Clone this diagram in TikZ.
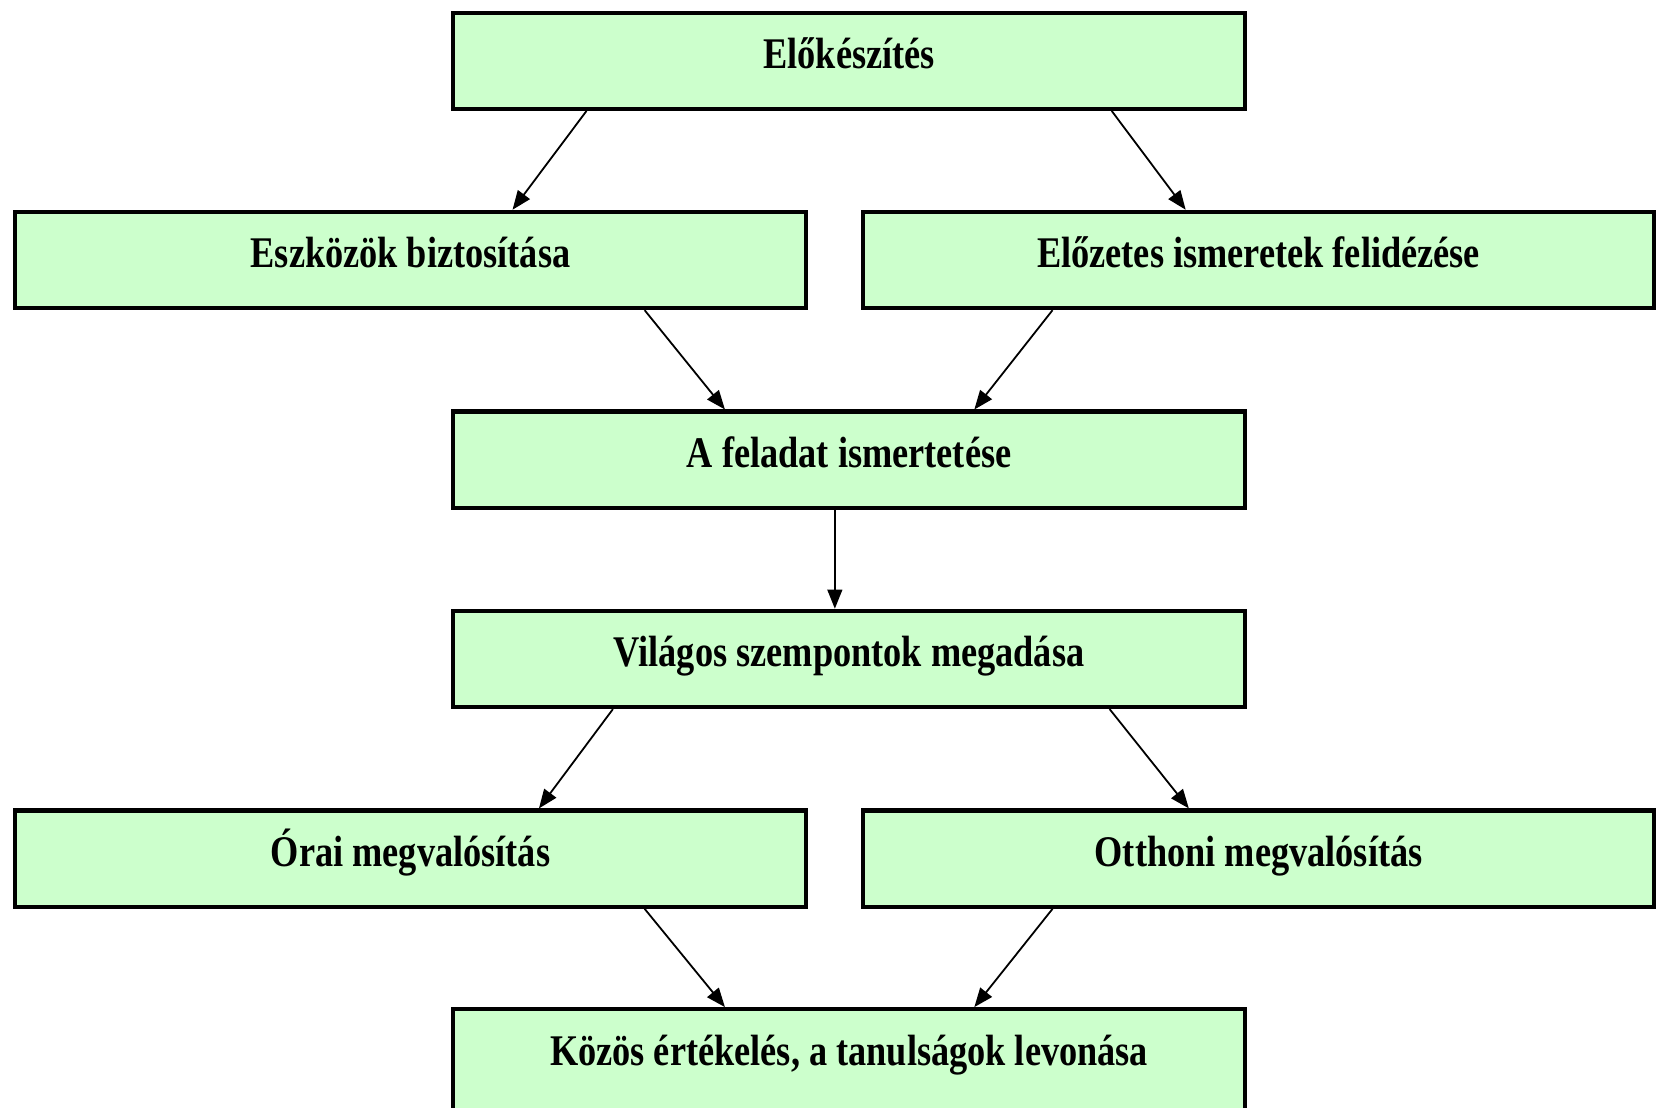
\documentclass[tikz,border=0pt]{standalone}
\usepackage{fontspec}
\setmainfont{Liberation Serif}[FakeStretch=0.83]
\usetikzlibrary{arrows.meta,calc}
\definecolor{boxgreen}{HTML}{CCFFCC}
\begin{document}
\begin{tikzpicture}[x=0.5pt,y=-0.5pt,
  box/.style={draw=black,line width=2pt,fill=boxgreen,minimum width=374.5pt,minimum height=45.5pt,
    inner sep=0pt,font=\fontsize{20.7}{24}\selectfont\bfseries,text height=14pt,text depth=6.9pt},
  conn/.style={-{Triangle[length=9pt,width=7pt]},line width=0.85pt}]
\useasboundingbox (0,0) rectangle (1568,1047.6);
\clip (0,0) rectangle (1568,1047.6);
\node[box] (top) at (803.5,57.5) {Előkészítés};
\node[box] (eszk) at (388.5,246) {Eszközök biztosítása};
\node[box] (elo) at (1191,246) {Előzetes ismeretek felidézése};
\node[box] (fel) at (803.5,435) {A feladat ismertetése};
\node[box] (vil) at (803.5,623.5) {Világos szempontok megadása};
\node[box] (ora) at (388.5,812.5) {Órai megvalósítás};
\node[box] (ott) at (1191,812.5) {Otthoni megvalósítás};
\node[box,minimum height=53pt,text depth=13.6pt] (koz) at (803.5,1008) {Közös értékelés, a tanulságok levonása};
\draw[conn] ($(top.south)+(-248.5,0)$) -- ($(eszk.north)+(96.5,0)$);
\draw[conn] ($(top.south)+(248.5,0)$) -- ($(elo.north)+(-69,0)$);
\draw[conn] ($(eszk.south)+(221.5,0)$) -- ($(fel.north)+(-117.5,0)$);
\draw[conn] ($(elo.south)+(-195,0)$) -- ($(fel.north)+(118.5,0)$);
\draw[conn] ($(fel.south)+(-13.5,0)$) -- ($(vil.north)+(-13.5,0)$);
\draw[conn] ($(vil.south)+(-223.5,0)$) -- ($(ora.north)+(121.5,0)$);
\draw[conn] ($(vil.south)+(246.5,0)$) -- ($(ott.north)+(-66,0)$);
\draw[conn] ($(ora.south)+(221.5,0)$) -- ($(koz.north)+(-117.5,0)$);
\draw[conn] ($(ott.south)+(-195,0)$) -- ($(koz.north)+(118.5,0)$);
\end{tikzpicture}
\end{document}
